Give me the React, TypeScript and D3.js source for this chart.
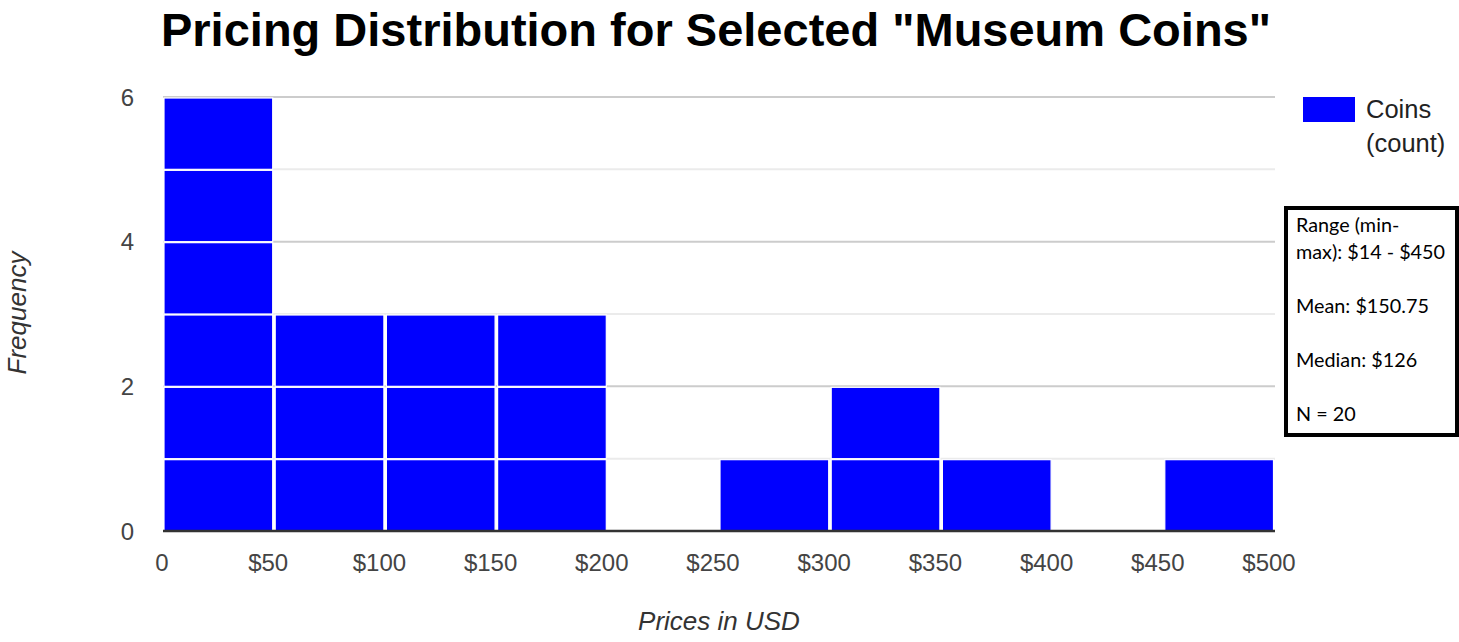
import React from "react";
import * as d3 from "d3";

const TITLE = 'Pricing Distribution for Selected "Museum Coins"';
const binStarts = [0, 50, 100, 150, 200, 250, 300, 350, 400, 450];
const binWidth = 50;
const counts = [6, 3, 3, 3, 0, 1, 2, 1, 0, 1];
const xTickValues = [0, 50, 100, 150, 200, 250, 300, 350, 400, 450, 500];
const yGridValues = [0, 1, 2, 3, 4, 5, 6];
const yLabelValues = [0, 2, 4, 6];
const seriesName = ["Coins", "(count)"];
const statsLines = ["Range (min-", "max): $14 - $450", "", "Mean: $150.75", "", "Median: $126", "", "N = 20"];

const W = 1459;
const H = 642;
const FONT = "Arial, 'Liberation Sans', sans-serif";

export default function App() {
  const x = d3.scaleLinear().domain([0, 500]).range([163, 1275]);
  const y = d3.scaleLinear().domain([0, 6]).range([531, 97]);
  const fmt = (v: number) => (v === 0 ? "0" : `$${v}`);

  const units: { x0: number; x1: number; y0: number; y1: number; key: string }[] = [];
  binStarts.forEach((b, i) => {
    for (let k = 0; k < counts[i]; k++) {
      units.push({ x0: x(b), x1: x(b + binWidth), y0: y(k), y1: y(k + 1), key: `${i}-${k}` });
    }
  });

  return (
    <svg width={W} height={H} style={{ position: "absolute", left: 0, top: 0, background: "#fff" }}>
      <rect x={0} y={0} width={W} height={H} fill="#fff" />
      <text x={716} y={46} textAnchor="middle" fontFamily={FONT} fontWeight="bold" fontSize={47} fill="#000">
        {TITLE}
      </text>
      {yGridValues.map((v) => (
        <line
          key={v}
          x1={x(0)}
          x2={x(500)}
          y1={y(v)}
          y2={y(v)}
          stroke={v % 2 === 0 ? "#cccccc" : "#ebebeb"}
          strokeWidth={2}
        />
      ))}
      {units.map((u) => (
        <rect
          key={u.key}
          x={u.x0 + 1}
          y={u.y1 + 1}
          width={u.x1 - u.x0 - 2.5}
          height={u.y0 - u.y1 - 1}
          fill="#0000ff"
          stroke="#ffffff"
          strokeWidth={1.2}
        />
      ))}
      <line x1={x(0)} x2={x(500)} y1={y(0)} y2={y(0)} stroke="#333333" strokeWidth={2.5} />
      {yLabelValues.map((v) => (
        <text key={v} x={134} y={y(v)} dy="0.36em" textAnchor="end" fontFamily={FONT} fontSize={24} fill="#444444">
          {v}
        </text>
      ))}
      {xTickValues.map((v) => (
        <text
          key={v}
          x={x(v) + (v === 0 ? -1 : -6)}
          y={571}
          textAnchor="middle"
          fontFamily={FONT}
          fontSize={24}
          fill="#444444"
        >
          {fmt(v)}
        </text>
      ))}
      <text x={719} y={630} textAnchor="middle" fontFamily={FONT} fontStyle="italic" fontSize={26} fill="#333333">
        Prices in USD
      </text>
      <text
        transform={`translate(26,313) rotate(-90)`}
        textAnchor="middle"
        fontFamily={FONT}
        fontStyle="italic"
        fontSize={26}
        fill="#333333"
      >
        Frequency
      </text>
      <rect x={1303} y={97} width={52} height={25} fill="#0000ff" />
      {seriesName.map((s, i) => (
        <text key={i} x={1366} y={118 + i * 34} fontFamily={FONT} fontSize={25.5} fill="#222222">
          {s}
        </text>
      ))}
      <rect x={1286} y={208} width={171} height={227} fill="#fff" stroke="#000" strokeWidth={4} />
      {statsLines.map((s, i) =>
        s ? (
          <text key={i} x={1296} y={232 + i * 27} fontFamily="Lato, 'Open Sans', sans-serif" fontSize={19.8} fill="#000">
            {s}
          </text>
        ) : null
      )}
    </svg>
  );
}
